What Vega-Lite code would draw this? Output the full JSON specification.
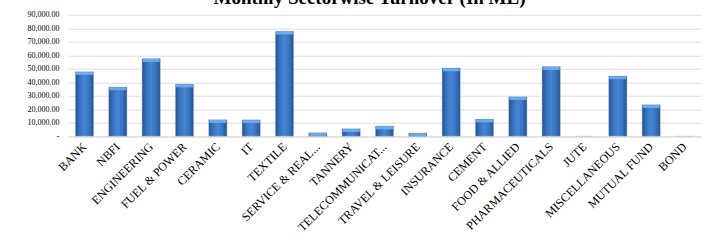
{
  "$schema": "https://vega.github.io/schema/vega-lite/v6.json",
  "autosize": {"type": "none"},
  "padding": {"left": 68, "top": 14.7, "right": 11, "bottom": 112.7},
  "width": 633,
  "height": 121.6,
  "background": "white",
  "title": {
    "text": "Monthly Sectorwise Turnover (In ML)",
    "font": "Liberation Serif",
    "fontSize": 19,
    "fontWeight": "bold",
    "color": "#000000",
    "anchor": "middle",
    "baseline": "alphabetic",
    "offset": -12,
    "dx": -15
  },
  "data": {
    "values": [
      {"sector": "BANK", "turnover": 47850},
      {"sector": "NBFI", "turnover": 36500},
      {"sector": "ENGINEERING", "turnover": 57500},
      {"sector": "FUEL & POWER", "turnover": 38700},
      {"sector": "CERAMIC", "turnover": 12300},
      {"sector": "IT", "turnover": 12200},
      {"sector": "TEXTILE", "turnover": 77800},
      {"sector": "SERVICE & REAL...", "turnover": 2700},
      {"sector": "TANNERY", "turnover": 5600},
      {"sector": "TELECOMMUNICAT...", "turnover": 7600},
      {"sector": "TRAVEL & LEISURE", "turnover": 2400},
      {"sector": "INSURANCE", "turnover": 50600},
      {"sector": "CEMENT", "turnover": 12800},
      {"sector": "FOOD & ALLIED", "turnover": 29300},
      {"sector": "PHARMACEUTICALS", "turnover": 51600},
      {"sector": "JUTE", "turnover": 0},
      {"sector": "MISCELLANEOUS", "turnover": 44700},
      {"sector": "MUTUAL FUND", "turnover": 23400},
      {"sector": "BOND", "turnover": 0}
    ]
  },
  "encoding": {
    "x": {
      "field": "sector",
      "type": "nominal",
      "sort": null,
      "scale": {"paddingInner": 0.45, "paddingOuter": 0.22},
      "axis": {
        "title": null,
        "labelAngle": -45,
        "labelAlign": "right",
        "labelBaseline": "middle",
        "labelFont": "Liberation Serif",
        "labelFontSize": 12,
        "labelColor": "#000000",
        "labelPadding": 8,
        "ticks": false,
        "domain": true,
        "domainColor": "#d9d9d9",
        "labelOverlap": false,
        "labelLimit": 200
      }
    },
    "y": {
      "field": "turnover",
      "type": "quantitative",
      "scale": {"domain": [0, 90000], "nice": false},
      "axis": {
        "title": null,
        "values": [0, 10000, 20000, 30000, 40000, 50000, 60000, 70000, 80000, 90000],
        "labelExpr": "datum.value == 0 ? '-' : format(datum.value, ',.2f')",
        "labelFont": "Liberation Serif",
        "labelFontSize": 8,
        "labelColor": "#000000",
        "labelPadding": 9,
        "ticks": false,
        "domain": false,
        "grid": true,
        "gridColor": "#dedede",
        "gridWidth": 1
      }
    }
  },
  "layer": [
    {
      "mark": {
        "type": "bar",
        "color": {
          "gradient": "linear",
          "x1": 0, "x2": 1, "y1": 0, "y2": 0,
          "stops": [
            {"offset": 0, "color": "#23508f"},
            {"offset": 0.25, "color": "#3a74c0"},
            {"offset": 0.5, "color": "#4585d2"},
            {"offset": 0.75, "color": "#3a74c0"},
            {"offset": 1, "color": "#23508f"}
          ]
        },
        "stroke": "#b8cde8",
        "strokeWidth": 0.5
      }
    },
    {
      "transform": [{"filter": "datum.turnover > 0"}],
      "mark": {
        "type": "tick",
        "orient": "horizontal",
        "color": "#6ea8e8",
        "thickness": 3,
        "size": 17,
        "yOffset": 1.8,
        "opacity": 1
      }
    }
  ],
  "config": {
    "view": {"stroke": null}
  }
}
